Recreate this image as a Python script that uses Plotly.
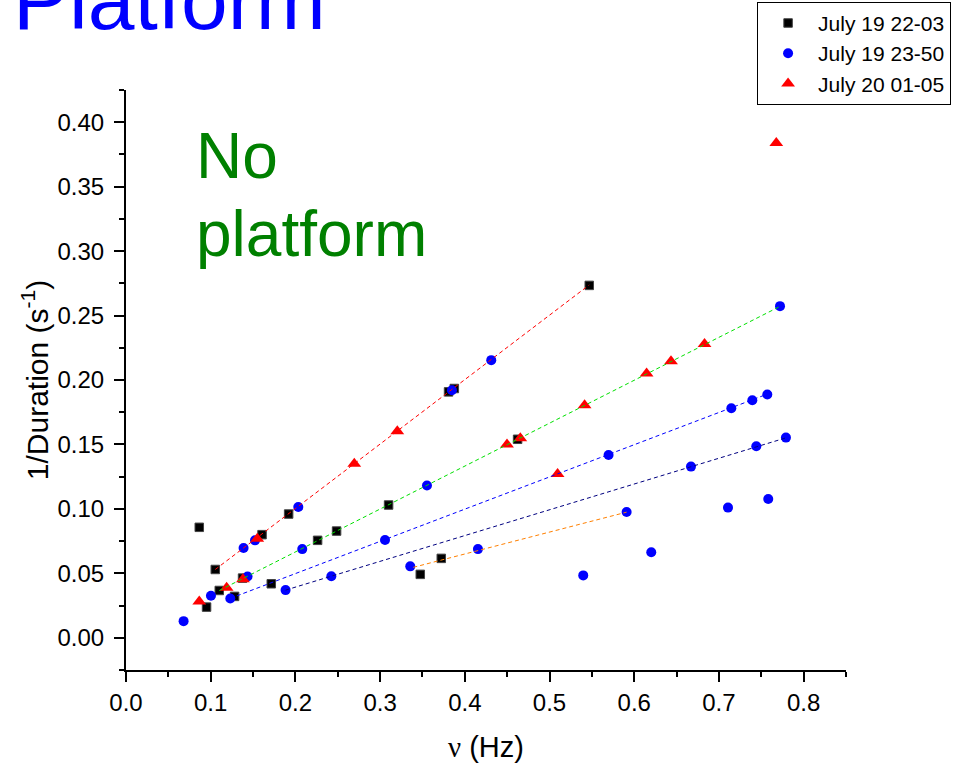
import numpy as np
import plotly.graph_objects as go

# ---- measured points: frequency (Hz) vs 1/duration (1/s) ----
s1_name = "July 19 22-03"
s1_x = [0.0865, 0.1054, 0.1606, 0.1920, 0.1376, 0.1101, 0.1282, 0.0951, 0.1715,
        0.2262, 0.2486, 0.3100, 0.3474, 0.3722, 0.3808, 0.3876, 0.4623, 0.5469]
s1_y = [0.0857, 0.0530, 0.0800, 0.0960, 0.0463, 0.0367, 0.0321, 0.0238, 0.0419,
        0.0756, 0.0828, 0.1030, 0.0492, 0.0616, 0.1908, 0.1934, 0.1540, 0.2734]

s2_name = "July 19 23-50"
s2_x = [0.0680, 0.1003, 0.1231, 0.1388, 0.1523, 0.1435, 0.2034, 0.1884, 0.2081,
        0.2424, 0.3058, 0.3553, 0.3356, 0.4155, 0.4312, 0.3848, 0.5697, 0.7721,
        0.7146, 0.7394, 0.7571, 0.7791, 0.7441, 0.6670, 0.5910, 0.7107, 0.7582,
        0.5398, 0.6201]
s2_y = [0.0129, 0.0326, 0.0305, 0.0696, 0.0756, 0.0476, 0.1014, 0.0370, 0.0688,
        0.0478, 0.0758, 0.1181, 0.0554, 0.0688, 0.2154, 0.1921, 0.1418, 0.2573,
        0.1781, 0.1843, 0.1887, 0.1553, 0.1486, 0.1328, 0.0976, 0.1010, 0.1077,
        0.0484, 0.0663]

s3_name = "July 20 01-05"
s3_x = [0.0865, 0.1188, 0.1381, 0.1550, 0.2695, 0.3203, 0.4498, 0.4655, 0.5095,
        0.5414, 0.6146, 0.6434, 0.6830, 0.7677]
s3_y = [0.0282, 0.0388, 0.0455, 0.0769, 0.1351, 0.1602, 0.1499, 0.1548, 0.1271,
        0.1804, 0.2050, 0.2146, 0.2280, 0.3839]

# ---- linear fits y = slope * x + intercept over [x_start, x_end] ----
fit_slope = [0.500, 0.333, 0.250, 0.200, 0.170]
fit_intercept = [0.0003, 0.0000, -0.0002, -0.0007, -0.0030]
fit_x_start = [0.1054, 0.1101, 0.1231, 0.1884, 0.3392]
fit_x_end = [0.5469, 0.7721, 0.7571, 0.7791, 0.5910]
fit_colors = ["#FF0000", "#00E000", "#0000FF", "#000080", "#FF8000"]

FONT = "Liberation Sans, Arial, sans-serif"

fig = go.Figure()

fig.add_trace(go.Scatter(
    x=s1_x, y=s1_y, mode="markers", name=s1_name,
    marker=dict(symbol="square", size=8.5, color="#000000",
                line=dict(color="#444444", width=1)),
))
fig.add_trace(go.Scatter(
    x=s2_x, y=s2_y, mode="markers", name=s2_name,
    marker=dict(symbol="circle", size=10, color="#0000FF", line=dict(width=0)),
))
fig.add_trace(go.Scatter(
    x=s3_x, y=s3_y, mode="markers", name=s3_name,
    marker=dict(symbol="triangle-up", size=12, color="#FF0000", line=dict(width=0)),
))

for m, b, x0, x1, c in zip(fit_slope, fit_intercept, fit_x_start, fit_x_end, fit_colors):
    xs = np.array([x0, x1])
    fig.add_trace(go.Scatter(
        x=xs, y=m * xs + b, mode="lines", showlegend=False, hoverinfo="skip",
        line=dict(color=c, width=1, dash="4px,3px"),
    ))

axis_common = dict(
    showgrid=False, zeroline=False, showline=True, linecolor="black", linewidth=2,
    ticks="outside", ticklen=10, tickwidth=1.5, tickcolor="black",
    tickfont=dict(family=FONT, size=24, color="black"),
    mirror=False,
)

fig.update_xaxes(
    **axis_common, range=[0, 0.85], tick0=0, dtick=0.1, tickformat=".1f",
    minor=dict(ticks="outside", ticklen=5, tickwidth=1.5, tickcolor="black",
               tick0=0, dtick=0.05),
    title=dict(text="<span style='font-family:Liberation Serif'>ν</span> (Hz)",
               font=dict(family=FONT, size=29, color="black"), standoff=22),
)
fig.update_yaxes(
    **axis_common, range=[-0.025, 0.425], tick0=0, dtick=0.05, tickformat=".2f",
    ticklabelstandoff=5,
    minor=dict(ticks="outside", ticklen=5, tickwidth=1.5, tickcolor="black",
               tick0=0, dtick=0.025),
    title=dict(text="1/Duration (s<sup>-1</sup>)",
               font=dict(family=FONT, size=30, color="black"), standoff=0),
)

fig.add_annotation(
    text="Platform", xref="paper", yref="paper", x=-0.160, y=1.1548,
    xanchor="left", yanchor="middle", showarrow=False,
    font=dict(family=FONT, size=84, color="#0000FF"),
)
fig.add_annotation(
    text="No", xref="paper", yref="paper", x=0.0949, y=0.8862,
    xanchor="left", yanchor="middle", align="left", showarrow=False,
    font=dict(family=FONT, size=64, color="#008000"),
)
fig.add_annotation(
    text="platform", xref="paper", yref="paper", x=0.0949, y=0.7517,
    xanchor="left", yanchor="middle", align="left", showarrow=False,
    font=dict(family=FONT, size=64, color="#008000"),
)

fig.update_layout(
    width=975, height=767,
    margin=dict(l=126, r=129, t=90, b=97, autoexpand=False),
    paper_bgcolor="white", plot_bgcolor="white",
    font=dict(family=FONT, color="black"),
    legend=dict(
        x=0.8765, y=1.152, xanchor="left", yanchor="top",
        bordercolor="black", borderwidth=1, bgcolor="white",
        font=dict(family=FONT, size=21, color="black"),
        itemwidth=50, tracegroupgap=0,
    ),
)

fig.write_html("out.html")
